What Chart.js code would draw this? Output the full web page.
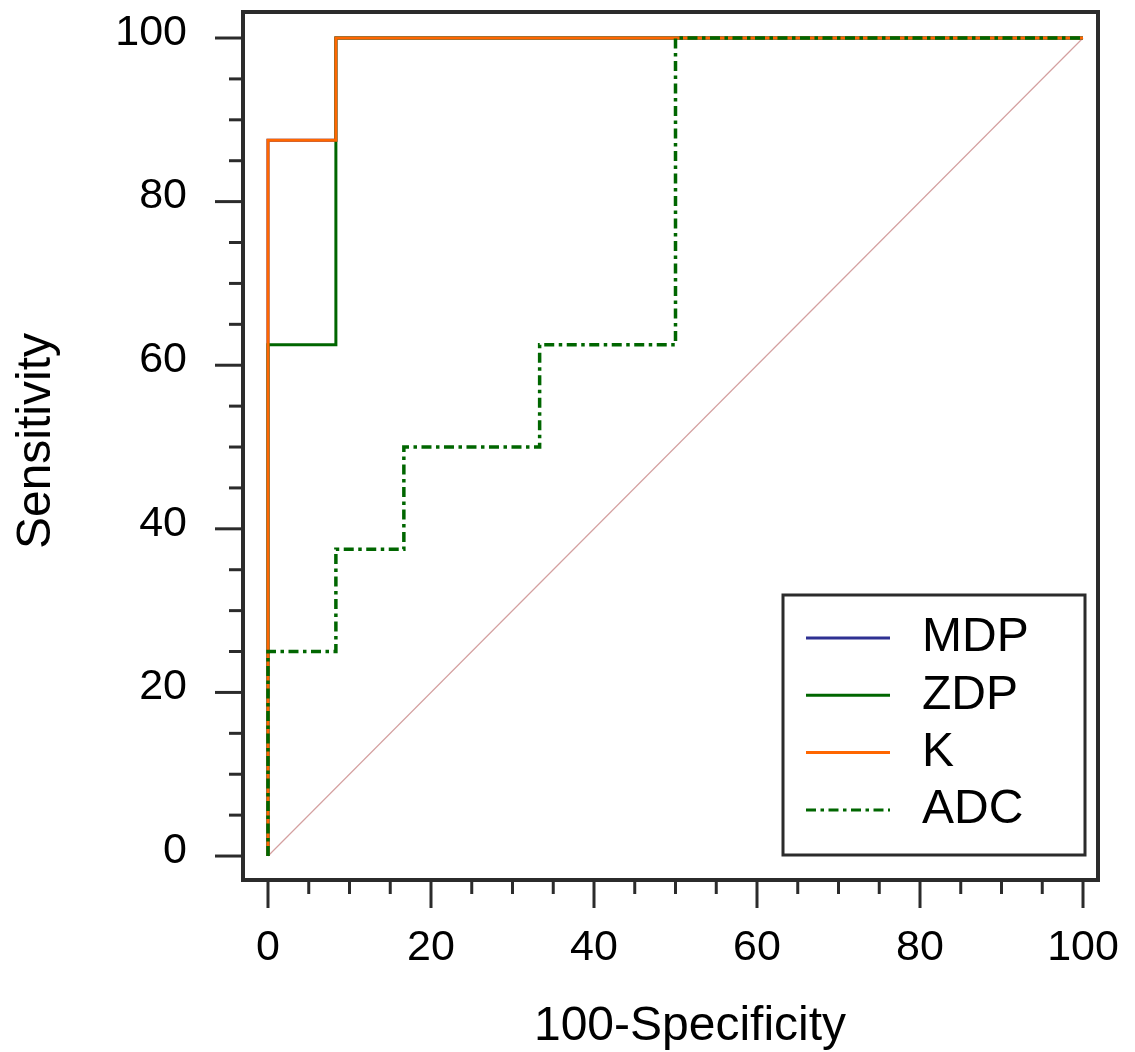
<!DOCTYPE html>
<html>
<head>
<meta charset="utf-8">
<script src="https://cdn.jsdelivr.net/npm/chart.js@4.4.0/dist/chart.umd.min.js"></script>
<style>
  html, body { margin: 0; padding: 0; background: #fff; }
  #wrap { width: 1135px; height: 1052px; }
</style>
</head>
<body>
<div id="wrap"><canvas id="roc" width="1135" height="1052"></canvas></div>
<script>
// ROC corner points (100-Specificity, Sensitivity), drawn as steps
const seriesNames = ['MDP', 'ZDP', 'K', 'ADC'];
const mdpFpr = [0, 0, 8.33, 100];
const mdpSens = [0, 87.5, 100, 100];
const zdpFpr = [0, 0, 8.33, 100];
const zdpSens = [0, 62.5, 100, 100];
const kFpr = [0, 0, 8.33, 100];
const kSens = [0, 87.5, 100, 100];
const adcFpr = [0, 0, 8.33, 16.67, 33.33, 50, 100];
const adcSens = [0, 25, 37.5, 50, 62.5, 100, 100];
const refLine = [0, 100];
const tickValues = [0, 5, 10, 15, 20, 25, 30, 35, 40, 45, 50, 55, 60, 65, 70, 75, 80, 85, 90, 95, 100];

const FONT = '"Liberation Sans", Arial, sans-serif';
const INK = '#2b2b2b';

const pts = (xs, ys) => xs.map((x, i) => ({ x, y: ys[i] }));
const noPad = s => { s.paddingTop = s.paddingBottom = s.paddingLeft = s.paddingRight = 0; };

// frame, tick marks, axis titles and the boxed legend
const decor = {
  id: 'decor',
  afterDatasetsDraw(chart) {
    const { ctx, chartArea: a, scales } = chart;
    ctx.save();
    ctx.strokeStyle = INK;
    ctx.lineCap = 'butt';
    ctx.lineWidth = 3;
    tickValues.forEach(v => {
      const len = v % 20 === 0 ? 28 : 14;
      const px = scales.x.getPixelForValue(v);
      ctx.beginPath(); ctx.moveTo(px, a.bottom); ctx.lineTo(px, a.bottom + len); ctx.stroke();
      const py = scales.y.getPixelForValue(v);
      ctx.beginPath(); ctx.moveTo(a.left, py); ctx.lineTo(a.left - len, py); ctx.stroke();
    });
    ctx.lineWidth = 4;
    ctx.strokeRect(a.left, a.top, a.right - a.left, a.bottom - a.top);

    // axis titles
    ctx.fillStyle = '#000';
    ctx.font = '48px ' + FONT;
    ctx.textAlign = 'center';
    ctx.textBaseline = 'alphabetic';
    ctx.fillText('100-Specificity', 690, 1040);
    ctx.save();
    ctx.translate(50, 441);
    ctx.rotate(-Math.PI / 2);
    ctx.fillText('Sensitivity', 0, 0);
    ctx.restore();

    // legend
    const bx = 783, by = 595, bw = 302, bh = 260;
    ctx.fillStyle = '#fff';
    ctx.fillRect(bx, by, bw, bh);
    ctx.lineWidth = 3;
    ctx.strokeStyle = INK;
    ctx.strokeRect(bx, by, bw, bh);
    const sets = chart.data.datasets.filter(d => seriesNames.includes(d.label));
    ctx.font = '48px ' + FONT;
    ctx.textAlign = 'left';
    ctx.textBaseline = 'middle';
    sets.forEach((d, i) => {
      const ry = 638 + i * 57.3;
      ctx.save();
      ctx.strokeStyle = d.borderColor;
      ctx.lineWidth = 3;
      ctx.setLineDash(d.borderDash || []);
      ctx.beginPath(); ctx.moveTo(806, ry); ctx.lineTo(890, ry); ctx.stroke();
      ctx.restore();
      ctx.fillStyle = '#000';
      ctx.fillText(d.label, 922, ry);
    });
    ctx.restore();
  }
};

new Chart(document.getElementById('roc'), {
  type: 'line',
  data: {
    datasets: [
      { label: 'MDP', data: pts(mdpFpr, mdpSens), borderColor: '#2e3192', order: 4 },
      { label: 'ZDP', data: pts(zdpFpr, zdpSens), borderColor: '#006600', order: 3 },
      { label: 'K', data: pts(kFpr, kSens), borderColor: '#ff6600', order: 2 },
      { label: 'ADC', data: pts(adcFpr, adcSens), borderColor: '#006600', borderWidth: 3.5, borderDash: [10, 4.5, 3.5, 4.5], order: 1 },
      { label: 'ref', data: pts(refLine, refLine), borderColor: '#d4a0a0', borderWidth: 1.2, stepped: false, order: 5 },
    ].map(d => ({ borderWidth: 3, stepped: 'before', pointRadius: 0, fill: false, ...d })),
  },
  options: {
    responsive: false,
    animation: false,
    layout: { padding: { top: 12, right: 37, left: 0, bottom: 0 } },
    plugins: { legend: { display: false }, tooltip: { enabled: false } },
    scales: {
      x: {
        type: 'linear', min: -3.067, max: 101.84,
        grid: { display: false, drawTicks: false },
        border: { display: false },
        afterBuildTicks: s => { s.ticks = tickValues.map(v => ({ value: v })); },
        afterFit: s => { s.height = 172; noPad(s); },
        ticks: {
          autoSkip: false, maxRotation: 0, padding: 42, color: '#000',
          font: { family: FONT, size: 43 },
          callback: v => (v % 20 === 0 ? v : ''),
        },
      },
      y: {
        type: 'linear', min: -2.93, max: 103.18,
        grid: { display: false, drawTicks: false },
        border: { display: false },
        afterBuildTicks: s => { s.ticks = tickValues.map(v => ({ value: v })); },
        afterFit: s => { s.width = 243; noPad(s); },
        ticks: {
          autoSkip: false, padding: 56, labelOffset: -5, color: '#000',
          font: { family: FONT, size: 43 },
          callback: v => (v % 20 === 0 ? v : ''),
        },
      },
    },
  },
  plugins: [decor],
});
</script>
</body>
</html>
